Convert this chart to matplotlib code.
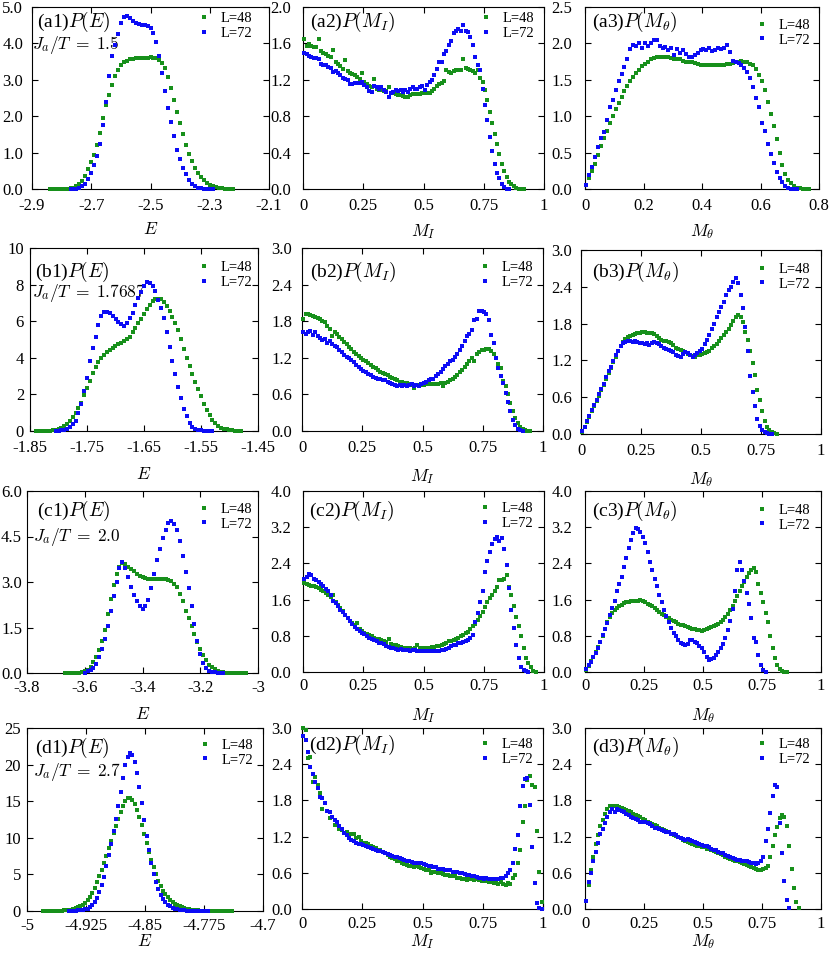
import numpy as np
import matplotlib
matplotlib.use('Agg')
import matplotlib.pyplot as plt

plt.rcParams['font.family'] = ['Liberation Serif', 'DejaVu Serif']
plt.rcParams['mathtext.fontset'] = 'cm'

GREEN = '#17901b'
BLUE = '#0c0cf5'

# ------------------------------------------------------------------ data
# (a1) P(E), Ja/T = 1.5
a1_L48_lim = (-2.84, -2.22)
a1_L48 = [0, 0, 0, 0, 0, 0.005, 0.01, 0.02, 0.04, 0.08, 0.14, 0.23, 0.36, 0.55, 0.75,
          0.93, 1.22, 1.55, 1.95, 2.30, 2.58, 2.85, 3.10, 3.28, 3.40, 3.48, 3.53, 3.56, 3.58, 3.59,
          3.60, 3.60, 3.60, 3.61, 3.62, 3.61, 3.60, 3.55, 3.47, 3.33, 3.07, 2.78, 2.45, 2.12, 1.80,
          1.50, 1.22, 0.97, 0.76, 0.58, 0.44, 0.33, 0.24, 0.17, 0.12, 0.08, 0.05, 0.035, 0.02, 0.01,
          0.005, 0, 0]
a1_L72_lim = (-2.77, -2.29)
a1_L72 = [0, 0, 0.01, 0.03, 0.07, 0.15, 0.28, 0.45, 0.66, 0.90, 1.25, 1.75, 2.40, 3.10, 3.65,
          3.95, 4.25, 4.55, 4.72, 4.74, 4.70, 4.62, 4.56, 4.52, 4.50, 4.50, 4.48, 4.42, 4.28, 4.05,
          3.65, 3.20, 2.68, 2.22, 1.85, 1.45, 1.08, 0.82, 0.58, 0.40, 0.26, 0.15, 0.08, 0.04, 0.02,
          0.01, 0, 0, 0]

# (a2) P(M_I)
a2_L48_lim = (0.005, 0.915)
a2_L48 = [1.65, 1.57, 1.59, 1.57, 1.56, 1.56, 1.65, 1.52, 1.50, 1.48, 1.46, 1.45, 1.53, 1.40, 1.37,
          1.35, 1.32, 1.42, 1.30, 1.28, 1.26, 1.25, 1.23, 1.21, 1.27, 1.18, 1.15, 1.13, 1.12, 1.21,
          1.10, 1.09, 1.09, 1.08, 1.08, 1.12, 1.06, 1.05, 1.04, 1.03, 1.03, 1.02, 1.01, 1.01, 1.03,
          1.04, 1.04, 1.04, 1.04, 1.05, 1.05, 1.05, 1.06, 1.08, 1.10, 1.13, 1.15, 1.17, 1.19, 1.31,
          1.29, 1.28, 1.30, 1.31, 1.31, 1.31, 1.43, 1.33, 1.32, 1.31, 1.30, 1.28, 1.31, 1.22, 1.18,
          1.09, 0.98, 0.85, 0.72, 0.60, 0.50, 0.39, 0.28, 0.20, 0.13, 0.08, 0.05, 0.03, 0.01, 0.005,
          0.002, 0]
a2_L72_lim = (0.005, 0.855)
a2_L72 = [1.50, 1.48, 1.46, 1.45, 1.44, 1.44, 1.43, 1.37, 1.36, 1.36, 1.34, 1.33, 1.29, 1.30, 1.28,
          1.25, 1.22, 1.21, 1.20, 1.15, 1.15, 1.17, 1.17, 1.17, 1.18, 1.14, 1.12, 1.08, 1.07, 1.13,
          1.12, 1.10, 1.12, 1.09, 1.07, 1.01, 1.05, 1.07, 1.09, 1.08, 1.09, 1.07, 1.09, 1.07, 1.10,
          1.12, 1.10, 1.10, 1.12, 1.13, 1.09, 1.14, 1.18, 1.20, 1.25, 1.32, 1.40, 1.40, 1.48, 1.52,
          1.58, 1.63, 1.71, 1.74, 1.76, 1.74, 1.80, 1.74, 1.73, 1.67, 1.58, 1.45, 1.36, 1.31, 1.10,
          0.92, 0.76, 0.57, 0.42, 0.28, 0.18, 0.12, 0.05, 0.02, 0.005, 0]

# (a3) P(M_theta)
a3_L48_lim = (0.005, 0.765)
a3_L48 = [0.05, 0.15, 0.25, 0.35, 0.47, 0.59, 0.70, 0.80, 0.90, 1.00, 1.10, 1.18, 1.26, 1.34, 1.41,
          1.48, 1.54, 1.60, 1.64, 1.69, 1.72, 1.75, 1.78, 1.80, 1.81, 1.82, 1.82, 1.82, 1.81, 1.80,
          1.79, 1.78, 1.78, 1.76, 1.75, 1.75, 1.74, 1.73, 1.72, 1.71, 1.71, 1.70, 1.70, 1.70, 1.71,
          1.71, 1.71, 1.71, 1.72, 1.72, 1.73, 1.74, 1.75, 1.76, 1.75, 1.74, 1.72, 1.70, 1.65, 1.57,
          1.48, 1.36, 1.20, 1.03, 0.86, 0.68, 0.50, 0.33, 0.20, 0.13, 0.08, 0.04, 0.02, 0.01, 0.005,
          0, 0]
a3_L72_lim = (0.005, 0.725)
a3_L72 = [0.06, 0.19, 0.30, 0.44, 0.58, 0.70, 0.78, 0.95, 1.12, 1.22, 1.36, 1.48, 1.58, 1.68, 1.78,
          1.92, 1.98, 1.96, 2.00, 1.94, 2.00, 1.97, 2.01, 2.04, 2.04, 1.96, 1.93, 1.95, 1.91, 1.94,
          1.84, 1.92, 1.87, 1.91, 1.86, 1.81, 1.81, 1.84, 1.87, 1.91, 1.92, 1.91, 1.93, 1.89, 1.91,
          1.93, 1.92, 1.93, 1.98, 1.88, 1.76, 1.74, 1.73, 1.70, 1.66, 1.61, 1.52, 1.40, 1.25, 1.12,
          0.90, 0.80, 0.62, 0.48, 0.36, 0.24, 0.15, 0.09, 0.04, 0.015, 0.005, 0.002, 0]

# (b1) P(E), Ja/T = 1.7687
b1_L48_lim = (-1.840, -1.480)
b1_L48 = [0, 0, 0, 0, 0.01, 0.02, 0.04, 0.06, 0.10, 0.18, 0.28, 0.40, 0.55, 0.75, 1.00,
          1.25, 1.55, 1.95, 2.35, 2.75, 3.15, 3.50, 3.75, 3.98, 4.15, 4.32, 4.43, 4.54, 4.64, 4.73,
          4.82, 4.92, 5.00, 5.16, 5.40, 5.62, 5.88, 6.12, 6.40, 6.68, 6.90, 7.08, 7.20, 7.23, 7.20,
          7.05, 6.82, 6.56, 6.22, 5.90, 5.50, 5.00, 4.49, 3.98, 3.55, 3.10, 2.70, 2.30, 1.90, 1.45,
          1.15, 0.85, 0.60, 0.42, 0.29, 0.19, 0.13, 0.09, 0.06, 0.04, 0.02, 0.01, 0]
b1_L72_lim = (-1.805, -1.530)
b1_L72 = [0.0, 0.01, 0.03, 0.06, 0.12, 0.22, 0.36, 0.56, 0.97, 1.45, 2.20, 2.90, 3.80, 4.55, 5.15,
          5.80, 6.28, 6.50, 6.50, 6.44, 6.31, 6.13, 5.95, 5.84, 5.76, 5.90, 6.18, 6.45, 6.88, 7.25,
          7.62, 7.90, 8.12, 8.10, 7.92, 7.63, 7.17, 6.70, 6.15, 5.40, 4.60, 3.80, 3.10, 2.40, 1.80,
          1.20, 0.80, 0.42, 0.20, 0.10, 0.06, 0.04, 0.02, 0.01, 0.005, 0]

# (b2) P(M_I)
b2_L48_lim = (0.005, 0.945)
b2_L48 = [1.84, 1.92, 1.91, 1.90, 1.89, 1.87, 1.85, 1.83, 1.81, 1.78, 1.72, 1.68, 1.55, 1.63, 1.59,
          1.54, 1.50, 1.46, 1.42, 1.38, 1.34, 1.30, 1.26, 1.23, 1.20, 1.17, 1.14, 1.11, 1.08, 1.05,
          1.03, 1.00, 0.97, 0.95, 0.93, 0.91, 0.89, 0.87, 0.85, 0.83, 0.81, 0.80, 0.79, 0.78, 0.77,
          0.76, 0.70, 0.76, 0.76, 0.76, 0.76, 0.77, 0.77, 0.77, 0.77, 0.77, 0.77, 0.78, 0.73, 0.79,
          0.81, 0.83, 0.85, 0.88, 0.92, 0.96, 1.00, 1.05, 1.10, 1.15, 1.20, 1.14, 1.26, 1.29, 1.32,
          1.33, 1.35, 1.34, 1.31, 1.27, 1.19, 1.10, 1.03, 0.82, 0.74, 0.60, 0.46, 0.32, 0.21, 0.13,
          0.07, 0.03, 0.015, 0.005, 0]
b2_L72_lim = (0.005, 0.915)
b2_L72 = [1.62, 1.59, 1.63, 1.64, 1.58, 1.62, 1.55, 1.52, 1.49, 1.51, 1.44, 1.47, 1.42, 1.39, 1.37,
          1.33, 1.29, 1.25, 1.21, 1.19, 1.16, 1.13, 1.08, 1.05, 1.02, 0.99, 0.96, 0.94, 0.92, 0.89,
          0.87, 0.85, 0.85, 0.84, 0.83, 0.81, 0.79, 0.77, 0.76, 0.74, 0.76, 0.74, 0.76, 0.74, 0.76,
          0.77, 0.74, 0.76, 0.74, 0.77, 0.78, 0.80, 0.83, 0.85, 0.86, 0.90, 0.94, 0.97, 1.02, 1.07,
          1.10, 1.14, 1.17, 1.21, 1.27, 1.33, 1.40, 1.47, 1.56, 1.59, 1.66, 1.82, 1.84, 1.97, 1.97,
          1.95, 1.92, 1.82, 1.58, 1.44, 1.20, 1.03, 0.90, 0.78, 0.62, 0.48, 0.32, 0.18, 0.10, 0.04,
          0.015, 0]

# (b3) P(M_theta)
b3_L48_lim = (0.005, 0.815)
b3_L48 = [0.04, 0.11, 0.19, 0.28, 0.37, 0.45, 0.54, 0.62, 0.71, 0.80, 0.90, 0.99, 1.08, 1.17, 1.26,
          1.35, 1.43, 1.50, 1.55, 1.58, 1.60, 1.62, 1.63, 1.64, 1.65, 1.66, 1.66, 1.65, 1.65, 1.64,
          1.63, 1.60, 1.56, 1.54, 1.52, 1.51, 1.50, 1.48, 1.45, 1.41, 1.38, 1.37, 1.35, 1.33, 1.31,
          1.29, 1.27, 1.26, 1.28, 1.28, 1.30, 1.32, 1.34, 1.36, 1.40, 1.43, 1.47, 1.51, 1.56, 1.61,
          1.66, 1.71, 1.77, 1.84, 1.90, 1.94, 1.91, 1.82, 1.67, 1.53, 1.35, 1.16, 0.96, 0.72, 0.55,
          0.38, 0.22, 0.12, 0.07, 0.03, 0.01, 0]
b3_L72_lim = (0.005, 0.795)
b3_L72 = [0.05, 0.12, 0.21, 0.30, 0.39, 0.47, 0.56, 0.65, 0.73, 0.82, 0.93, 1.02, 1.10, 1.19, 1.28,
          1.36, 1.43, 1.48, 1.50, 1.51, 1.51, 1.50, 1.51, 1.50, 1.49, 1.48, 1.47, 1.48, 1.45, 1.48,
          1.50, 1.49, 1.47, 1.43, 1.40, 1.38, 1.37, 1.36, 1.33, 1.29, 1.27, 1.26, 1.30, 1.33, 1.32,
          1.28, 1.26, 1.29, 1.32, 1.35, 1.39, 1.46, 1.54, 1.62, 1.72, 1.80, 1.90, 1.99, 2.07, 2.16,
          2.26, 2.34, 2.40, 2.48, 2.54, 2.47, 2.26, 2.05, 1.75, 1.35, 0.95, 0.68, 0.45, 0.25, 0.13,
          0.07, 0.03, 0.015, 0.005, 0]

# (c1) P(E), Ja/T = 2.0
c1_L48_lim = (-3.67, -3.04)
c1_L48 = [0, 0, 0, 0, 0.005, 0.01, 0.02, 0.05, 0.11, 0.21, 0.35, 0.53, 0.75, 1.05, 1.42,
          1.95, 2.45, 2.90, 3.25, 3.50, 3.62, 3.58, 3.50, 3.42, 3.35, 3.27, 3.20, 3.15, 3.12, 3.10,
          3.09, 3.09, 3.10, 3.11, 3.11, 3.09, 3.06, 3.02, 2.95, 2.82, 2.62, 2.38, 2.05, 1.82, 1.55,
          1.30, 1.02, 0.80, 0.58, 0.42, 0.28, 0.19, 0.12, 0.07, 0.04, 0.02, 0.01, 0.005, 0, 0,
          0, 0, 0, 0]
c1_L72_lim = (-3.60, -3.12)
c1_L72 = [0.01, 0.05, 0.11, 0.18, 0.30, 0.52, 0.80, 1.12, 1.55, 2.05, 2.55, 3.00, 3.45, 3.65, 3.45,
          3.15, 2.85, 2.58, 2.38, 2.22, 2.12, 2.20, 2.42, 2.80, 3.25, 3.72, 4.10, 4.45, 4.72, 4.93,
          5.02, 4.92, 4.70, 4.35, 3.85, 3.34, 2.80, 2.20, 1.62, 1.06, 0.62, 0.32, 0.16, 0.08, 0.04,
          0.02, 0.01, 0.005, 0]

# (c2) P(M_I)
c2_L48_lim = (0.005, 0.965)
c2_L48 = [1.96, 1.94, 1.93, 1.91, 1.90, 1.88, 1.85, 1.82, 1.79, 1.74, 1.70, 1.65, 1.71, 1.55, 1.48,
          1.41, 1.35, 1.27, 1.20, 1.13, 1.08, 1.03, 1.08, 0.94, 0.90, 0.87, 0.85, 0.82, 0.79, 0.76,
          0.74, 0.72, 0.70, 0.68, 0.66, 0.73, 0.62, 0.60, 0.59, 0.57, 0.55, 0.54, 0.53, 0.53, 0.52,
          0.51, 0.52, 0.60, 0.53, 0.52, 0.53, 0.53, 0.54, 0.55, 0.56, 0.57, 0.58, 0.59, 0.61, 0.64,
          0.68, 0.68, 0.71, 0.73, 0.76, 0.79, 0.82, 0.86, 0.89, 0.95, 1.01, 1.07, 1.16, 1.24, 1.33,
          1.44, 1.55, 1.63, 1.71, 1.79, 1.88, 2.03, 2.04, 2.06, 2.14, 1.88, 1.70, 1.45, 1.22, 1.02,
          0.80, 0.52, 0.32, 0.20, 0.10, 0.03, 0.005]
c2_L72_lim = (0.005, 0.935)
c2_L72 = [2.06, 2.11, 2.16, 2.15, 2.06, 2.04, 1.99, 1.95, 1.90, 1.84, 1.78, 1.70, 1.56, 1.52, 1.45,
          1.36, 1.32, 1.27, 1.20, 1.12, 1.05, 1.00, 0.94, 0.90, 0.86, 0.83, 0.79, 0.76, 0.74, 0.70,
          0.68, 0.65, 0.63, 0.61, 0.58, 0.56, 0.54, 0.53, 0.51, 0.49, 0.51, 0.48, 0.49, 0.49, 0.47,
          0.49, 0.48, 0.47, 0.46, 0.47, 0.46, 0.47, 0.46, 0.47, 0.46, 0.47, 0.46, 0.48, 0.49, 0.51,
          0.54, 0.57, 0.59, 0.60, 0.63, 0.65, 0.67, 0.69, 0.71, 0.75, 0.82, 1.10, 1.30, 1.55, 1.80,
          2.20, 2.45, 2.65, 2.82, 2.95, 2.99, 2.90, 2.96, 2.72, 2.37, 1.85, 1.38, 0.97, 0.60, 0.30,
          0.12, 0.05, 0.015, 0]

# (c3) P(M_theta)
c3_L48_lim = (0.005, 0.855)
c3_L48 = [0.05, 0.14, 0.24, 0.34, 0.44, 0.55, 0.67, 0.80, 0.94, 1.10, 1.21, 1.30, 1.36, 1.41, 1.45,
          1.49, 1.52, 1.54, 1.55, 1.57, 1.56, 1.56, 1.57, 1.60, 1.57, 1.55, 1.51, 1.48, 1.45, 1.41,
          1.37, 1.33, 1.29, 1.26, 1.22, 1.19, 1.16, 1.12, 1.10, 1.07, 1.04, 1.03, 1.01, 0.99, 0.98,
          0.96, 0.94, 0.93, 0.92, 0.91, 0.93, 0.95, 0.98, 1.00, 1.02, 1.04, 1.07, 1.10, 1.15, 1.22,
          1.29, 1.37, 1.46, 1.57, 1.68, 1.78, 1.89, 1.99, 2.09, 2.19, 2.25, 2.29, 2.22, 1.95, 1.74,
          1.55, 1.30, 1.10, 0.80, 0.53, 0.30, 0.16, 0.07, 0.03, 0.01, 0]
c3_L72_lim = (0.005, 0.765)
c3_L72 = [0.07, 0.15, 0.23, 0.34, 0.43, 0.54, 0.66, 0.81, 0.94, 1.08, 1.26, 1.41, 1.58, 1.79, 1.95,
          2.11, 2.33, 2.52, 2.74, 2.91, 3.08, 3.18, 3.16, 3.10, 2.98, 2.84, 2.65, 2.44, 2.25, 2.06,
          1.89, 1.71, 1.55, 1.37, 1.24, 1.11, 0.98, 0.86, 0.79, 0.71, 0.65, 0.61, 0.60, 0.62, 0.70,
          0.70, 0.67, 0.63, 0.58, 0.52, 0.45, 0.34, 0.27, 0.29, 0.32, 0.37, 0.45, 0.53, 0.62, 0.76,
          0.93, 1.13, 1.40, 1.78, 2.25, 2.42, 2.25, 2.02, 1.75, 1.50, 1.20, 0.75, 0.66, 0.38, 0.16,
          0.05, 0.01]

# (d1) P(E), Ja/T = 2.7
d1_L48_lim = (-4.980, -4.740)
d1_L48 = [0, 0, 0, 0, 0, 0.01, 0.02, 0.03, 0.05, 0.08, 0.11, 0.15, 0.20, 0.27, 0.37,
          0.50, 0.66, 0.88, 1.15, 1.50, 1.95, 2.50, 3.15, 3.90, 4.75, 5.60, 6.50, 7.50, 8.55, 9.60,
          10.6, 11.6, 12.6, 13.5, 14.3, 15.0, 15.4, 15.5, 15.2, 14.6, 13.8, 12.8, 11.7, 10.5, 9.3,
          8.1, 7.0, 5.95, 5.0, 4.15, 3.42, 2.80, 2.28, 1.85, 1.50, 1.22, 0.98, 0.80, 0.65, 0.52,
          0.42, 0.33, 0.26, 0.20, 0.15, 0.11, 0.08, 0.06, 0.04, 0.03, 0.02, 0.01, 0.005, 0, 0,
          0, 0, 0, 0, 0, 0]
d1_L72_lim = (-4.947, -4.770)
d1_L72 = [0, 0.01, 0.02, 0.04, 0.07, 0.10, 0.14, 0.22, 0.34, 0.52, 0.82, 1.22, 1.80, 2.55, 3.50,
          4.70, 6.10, 7.60, 9.20, 10.9, 12.6, 14.4, 16.3, 18.2, 19.9, 21.0, 21.6, 21.3, 20.3, 18.8,
          16.9, 14.7, 12.5, 10.3, 8.3, 6.6, 5.1, 3.9, 2.95, 2.20, 1.62, 1.18, 0.85, 0.62, 0.45,
          0.32, 0.23, 0.16, 0.11, 0.08, 0.05, 0.035, 0.02, 0.015, 0.01, 0.005, 0, 0, 0, 0]

# (d2) P(M_I)
d2_L48_lim = (0.005, 0.995)
d2_L48 = [3.00, 2.97, 2.50, 2.52, 2.10, 2.19, 2.05, 1.92, 1.66, 1.75, 1.62, 1.51, 1.52, 1.40, 1.43,
          1.33, 1.31, 1.26, 1.27, 1.22, 1.24, 1.24, 1.17, 1.19, 1.12, 1.09, 1.10, 1.07, 1.05, 1.03,
          1.01, 0.98, 0.97, 0.95, 0.93, 0.90, 0.87, 0.84, 0.83, 0.80, 0.79, 0.77, 0.75, 0.73, 0.72,
          0.71, 0.70, 0.71, 0.69, 0.68, 0.66, 0.65, 0.65, 0.60, 0.62, 0.61, 0.59, 0.60, 0.58, 0.57,
          0.57, 0.55, 0.54, 0.54, 0.52, 0.51, 0.50, 0.50, 0.48, 0.49, 0.49, 0.48, 0.49, 0.48, 0.47,
          0.47, 0.46, 0.45, 0.44, 0.43, 0.43, 0.42, 0.44, 0.41, 0.40, 0.43, 0.41, 0.52, 0.57, 0.76,
          0.97, 1.45, 1.70, 2.14, 2.20, 2.05, 2.02, 1.29, 0.62, 0.11]
d2_L72_lim = (0.005, 0.995)
d2_L72 = [2.86, 2.80, 2.60, 2.35, 2.24, 2.10, 2.00, 1.86, 1.84, 1.75, 1.63, 1.60, 1.52, 1.48, 1.45,
          1.37, 1.33, 1.26, 1.22, 1.18, 1.15, 1.12, 1.10, 1.08, 1.07, 1.06, 1.04, 1.02, 1.01, 0.99,
          0.98, 0.96, 0.96, 0.95, 0.93, 0.91, 0.89, 0.88, 0.87, 0.86, 0.85, 0.83, 0.82, 0.80, 0.79,
          0.78, 0.77, 0.77, 0.76, 0.76, 0.75, 0.73, 0.72, 0.71, 0.70, 0.69, 0.67, 0.66, 0.66, 0.65,
          0.64, 0.64, 0.62, 0.62, 0.61, 0.60, 0.59, 0.58, 0.57, 0.56, 0.55, 0.54, 0.53, 0.52, 0.51,
          0.50, 0.51, 0.50, 0.50, 0.50, 0.50, 0.50, 0.51, 0.51, 0.54, 0.59, 0.65, 0.76, 0.99, 1.23,
          1.70, 2.04, 2.15, 2.17, 1.73, 1.02, 0.43, 0.10, 0.01, 0]

# (d3) P(M_theta)
d3_L48_lim = (0.005, 0.905)
d3_L48 = [0.13, 0.40, 0.64, 0.87, 1.07, 1.22, 1.37, 1.48, 1.58, 1.65, 1.70, 1.71, 1.71, 1.70, 1.69,
          1.68, 1.66, 1.64, 1.62, 1.60, 1.58, 1.56, 1.54, 1.52, 1.49, 1.47, 1.45, 1.43, 1.41, 1.39,
          1.37, 1.35, 1.33, 1.31, 1.29, 1.27, 1.25, 1.23, 1.21, 1.19, 1.17, 1.15, 1.13, 1.11, 1.09,
          1.08, 1.06, 1.05, 1.04, 1.03, 1.02, 1.00, 0.99, 0.97, 0.96, 0.94, 0.93, 0.91, 0.89, 0.87,
          0.85, 0.83, 0.82, 0.80, 0.79, 0.78, 0.76, 0.75, 0.73, 0.72, 0.70, 0.68, 0.67, 0.65, 0.65,
          0.66, 0.68, 0.72, 0.86, 1.05, 1.22, 1.36, 1.51, 1.55, 1.52, 1.37, 1.05, 0.66, 0.35, 0.11,
          0.02]
d3_L72_lim = (0.005, 0.865)
d3_L72 = [0.13, 0.45, 0.60, 0.80, 0.95, 1.10, 1.24, 1.33, 1.42, 1.53, 1.60, 1.65, 1.60, 1.65, 1.64,
          1.62, 1.60, 1.57, 1.55, 1.53, 1.51, 1.49, 1.47, 1.45, 1.45, 1.44, 1.43, 1.41, 1.38, 1.35,
          1.34, 1.32, 1.31, 1.30, 1.28, 1.27, 1.25, 1.24, 1.22, 1.19, 1.17, 1.16, 1.15, 1.16, 1.15,
          1.13, 1.11, 1.09, 1.08, 1.06, 1.05, 1.04, 1.02, 1.00, 0.98, 0.97, 0.95, 0.93, 0.92, 0.90,
          0.88, 0.86, 0.85, 0.83, 0.82, 0.81, 0.80, 0.79, 0.79, 0.78, 0.77, 0.76, 0.75, 0.76, 0.80,
          0.87, 1.12, 1.33, 1.59, 1.88, 2.06, 2.02, 1.43, 0.92, 0.46, 0.15, 0.02]

# ticks
a1_xticks = [-2.9, -2.7, -2.5, -2.3, -2.1]
a1_xticklabels = ['-2.9', '-2.7', '-2.5', '-2.3', '-2.1']
b1_xticks = [-1.85, -1.75, -1.65, -1.55, -1.45]
b1_xticklabels = ['-1.85', '-1.75', '-1.65', '-1.55', '-1.45']
c1_xticks = [-3.8, -3.6, -3.4, -3.2, -3.0]
c1_xticklabels = ['-3.8', '-3.6', '-3.4', '-3.2', '-3']
d1_xticks = [-5.0, -4.925, -4.85, -4.775, -4.7]
d1_xticklabels = ['-5', '-4.925', '-4.85', '-4.775', '-4.7']
m_xticks = [0, 0.25, 0.5, 0.75, 1.0]
m_xticklabels = ['0', '0.25', '0.5', '0.75', '1']
a3_xticks = [0, 0.2, 0.4, 0.6, 0.8]
a3_xticklabels = ['0', '0.2', '0.4', '0.6', '0.8']

a1_yticks = [0, 1, 2, 3, 4, 5]
a1_yticklabels = ['0.0', '1.0', '2.0', '3.0', '4.0', '5.0']
a2_yticks = [0, 0.4, 0.8, 1.2, 1.6, 2.0]
a2_yticklabels = ['0.0', '0.4', '0.8', '1.2', '1.6', '2.0']
a3_yticks = [0, 0.5, 1.0, 1.5, 2.0, 2.5]
a3_yticklabels = ['0.0', '0.5', '1.0', '1.5', '2.0', '2.5']
b1_yticks = [0, 2, 4, 6, 8, 10]
b1_yticklabels = ['0', '2', '4', '6', '8', '10']
p3_yticks = [0, 0.6, 1.2, 1.8, 2.4, 3.0]
p3_yticklabels = ['0.0', '0.6', '1.2', '1.8', '2.4', '3.0']
c1_yticks = [0, 1.5, 3.0, 4.5, 6.0]
c1_yticklabels = ['0.0', '1.5', '3.0', '4.5', '6.0']
p4_yticks = [0, 0.8, 1.6, 2.4, 3.2, 4.0]
p4_yticklabels = ['0.0', '0.8', '1.6', '2.4', '3.2', '4.0']
d1_yticks = [0, 5, 10, 15, 20, 25]
d1_yticklabels = ['0', '5', '10', '15', '20', '25']

series_labels = ['L=48', 'L=72']
col_xlabels = ['$E$', '$M_I$', r'$M_\theta$']
row_temps = ['1.5', '1.7687', '2.0', '2.7']

# ------------------------------------------------------------------ layout
W, H = 830, 958
fig = plt.figure(figsize=(W / 100, H / 100), dpi=100)
fig.patch.set_facecolor('white')

PX2PT = 0.72
# row-dependent styling: x tick label pad (px) and xlabel offset (px)
row_xpad = [9.5, 9.0, 6.5, 6.5]
row_xlab = [33, 36, 34, 23]

panels = [
    # row 0
    dict(box=(32, 269, 7, 189), d=(a1_L48_lim, a1_L48, a1_L72_lim, a1_L72), xlim=(-2.9, -2.1),
         xt=(a1_xticks, a1_xticklabels), ylim=(0, 5), yt=(a1_yticks, a1_yticklabels), ypad=9,
         name='(a1)$P(E)$', npos=(5, 15), jpos=(0, 38), leg=(172, 11, 27), row=0, col=0),
    dict(box=(303, 544, 7, 189), d=(a2_L48_lim, a2_L48, a2_L72_lim, a2_L72), xlim=(0, 1),
         xt=(m_xticks, m_xticklabels), ylim=(0, 2.0), yt=(a2_yticks, a2_yticklabels), ypad=12,
         name='(a2)$P(M_I)$', npos=(7, 15), leg=(183, 11, 27), row=0, col=1),
    dict(box=(585, 819, 7, 189), d=(a3_L48_lim, a3_L48, a3_L72_lim, a3_L72), xlim=(0, 0.8),
         xt=(a3_xticks, a3_xticklabels), ylim=(0, 2.5), yt=(a3_yticks, a3_yticklabels), ypad=13,
         name=r'(a3)$P(M_\theta)$', npos=(7, 15), leg=(177, 16, 35), row=0, col=2),
    # row 1
    dict(box=(30, 258, 248, 431), d=(b1_L48_lim, b1_L48, b1_L72_lim, b1_L72), xlim=(-1.85, -1.45),
         xt=(b1_xticks, b1_xticklabels), ylim=(0, 10), yt=(b1_yticks, b1_yticklabels), ypad=6,
         name='(b1)$P(E)$', npos=(5, 24), jpos=(2, 45), leg=(174, 18, 36), row=1, col=0),
    dict(box=(302, 543, 248, 431), d=(b2_L48_lim, b2_L48, b2_L72_lim, b2_L72), xlim=(0, 1),
         xt=(m_xticks, m_xticklabels), ylim=(0, 3.0), yt=(p3_yticks, p3_yticklabels), ypad=10,
         name='(b2)$P(M_I)$', npos=(8, 24), leg=(183, 18, 36), row=1, col=1),
    dict(box=(581, 821, 250, 434), d=(b3_L48_lim, b3_L48, b3_L72_lim, b3_L72), xlim=(0, 1),
         xt=(m_xticks, m_xticklabels), ylim=(0, 3.0), yt=(p3_yticks, p3_yticklabels), ypad=9,
         name=r'(b3)$P(M_\theta)$', npos=(11, 22), leg=(181, 18, 35), row=1, col=2),
    # row 2
    dict(box=(27, 258, 491, 673), d=(c1_L48_lim, c1_L48, c1_L72_lim, c1_L72), xlim=(-3.8, -3.0),
         xt=(c1_xticks, c1_xticklabels), ylim=(0, 6.0), yt=(c1_yticks, c1_yticklabels), ypad=5,
         name='(c1)$P(E)$', npos=(10, 20), jpos=(6, 46), leg=(177, 17, 34), row=2, col=0),
    dict(box=(303, 544, 491, 672), d=(c2_L48_lim, c2_L48, c2_L72_lim, c2_L72), xlim=(0, 1),
         xt=(m_xticks, m_xticklabels), ylim=(0, 4.0), yt=(p4_yticks, p4_yticklabels), ypad=12,
         name='(c2)$P(M_I)$', npos=(6, 20), leg=(182, 16, 34), row=2, col=1),
    dict(box=(585, 821, 491, 672), d=(c3_L48_lim, c3_L48, c3_L72_lim, c3_L72), xlim=(0, 1),
         xt=(m_xticks, m_xticklabels), ylim=(0, 4.0), yt=(p4_yticks, p4_yticklabels), ypad=13,
         name=r'(c3)$P(M_\theta)$', npos=(7, 20), leg=(177, 19, 34), row=2, col=2),
    # row 3
    dict(box=(27, 263, 728, 911), d=(d1_L48_lim, d1_L48, d1_L72_lim, d1_L72), xlim=(-5.0, -4.7),
         xt=(d1_xticks, d1_xticklabels), ylim=(0, 25), yt=(d1_yticks, d1_yticklabels), ypad=6,
         name='(d1)$P(E)$', npos=(8, 20), jpos=(6, 44), leg=(178, 15, 34), row=3, col=0),
    dict(box=(302, 543, 728, 909), d=(d2_L48_lim, d2_L48, d2_L72_lim, d2_L72), xlim=(0, 1),
         xt=(m_xticks, m_xticklabels), ylim=(0, 3.0), yt=(p3_yticks, p3_yticklabels), ypad=10,
         name='(d2)$P(M_I)$', npos=(7, 17), leg=(183, 15, 33), row=3, col=1),
    dict(box=(585, 821, 728, 909), d=(d3_L48_lim, d3_L48, d3_L72_lim, d3_L72), xlim=(0, 1),
         xt=(m_xticks, m_xticklabels), ylim=(0, 3.0), yt=(p3_yticks, p3_yticklabels), ypad=13,
         name=r'(d3)$P(M_\theta)$', npos=(7, 19), leg=(177, 15, 33), row=3, col=2),
]

LEG_FS = 10.5
LEG_FS_PX = LEG_FS * 100 / 72.0
HANDLE_LEN = 1.0

for p in panels:
    l, r, t, b = p['box']
    axw, axh = r - l, b - t
    ax = fig.add_axes([l / W, 1 - b / H, axw / W, axh / H])

    lim48, y48, lim72, y72 = p['d']
    x48 = np.linspace(lim48[0], lim48[1], len(y48))
    x72 = np.linspace(lim72[0], lim72[1], len(y72))
    ax.plot(x48, y48, linestyle='none', marker='s', ms=2.4, mew=0, color=GREEN,
            label=series_labels[0], clip_on=False, zorder=3)
    ax.plot(x72, y72, linestyle='none', marker='s', ms=2.4, mew=0, color=BLUE,
            label=series_labels[1], clip_on=False, zorder=4)

    ax.set_xlim(*p['xlim'])
    ax.set_ylim(*p['ylim'])
    ax.set_xticks(p['xt'][0])
    ax.set_xticklabels(p['xt'][1])
    ax.set_yticks(p['yt'][0])
    ax.set_yticklabels(p['yt'][1])
    ax.minorticks_off()
    ax.tick_params(axis='both', direction='in', top=True, right=True, length=4, width=0.8,
                   labelsize=12, colors='black')
    ax.tick_params(axis='x', pad=row_xpad[p['row']] * PX2PT)
    ax.tick_params(axis='y', pad=p['ypad'] * PX2PT)
    for sp in ax.spines.values():
        sp.set_linewidth(0.8)

    ax.set_xlabel(col_xlabels[p['col']], fontsize=12.5)
    ax.xaxis.set_label_coords(0.5, -row_xlab[p['row']] / axh)

    nx, ny = p['npos']
    ax.text(nx / axw, 1 - ny / axh, p['name'], transform=ax.transAxes,
            fontsize=14, ha='left', va='center')
    if 'jpos' in p:
        jx, jy = p['jpos']
        ax.text(jx / axw, 1 - jy / axh, r'$J_a/T\;=\;%s$' % row_temps[p['row']],
                transform=ax.transAxes, fontsize=12.5, ha='left', va='center')

    mx, ly1, ly2 = p['leg']
    x0 = (mx - 0.5 * HANDLE_LEN * LEG_FS_PX) / axw
    yc = 1 - 0.5 * (ly1 + ly2) / axh
    ax.legend(loc='center left', bbox_to_anchor=(x0, yc), frameon=False, fontsize=LEG_FS,
              handlelength=HANDLE_LEN, handletextpad=0.65, borderpad=0, borderaxespad=0,
              labelspacing=0.12, markerscale=1.4, numpoints=1)

fig.savefig('out.png', dpi=100, facecolor='white')
